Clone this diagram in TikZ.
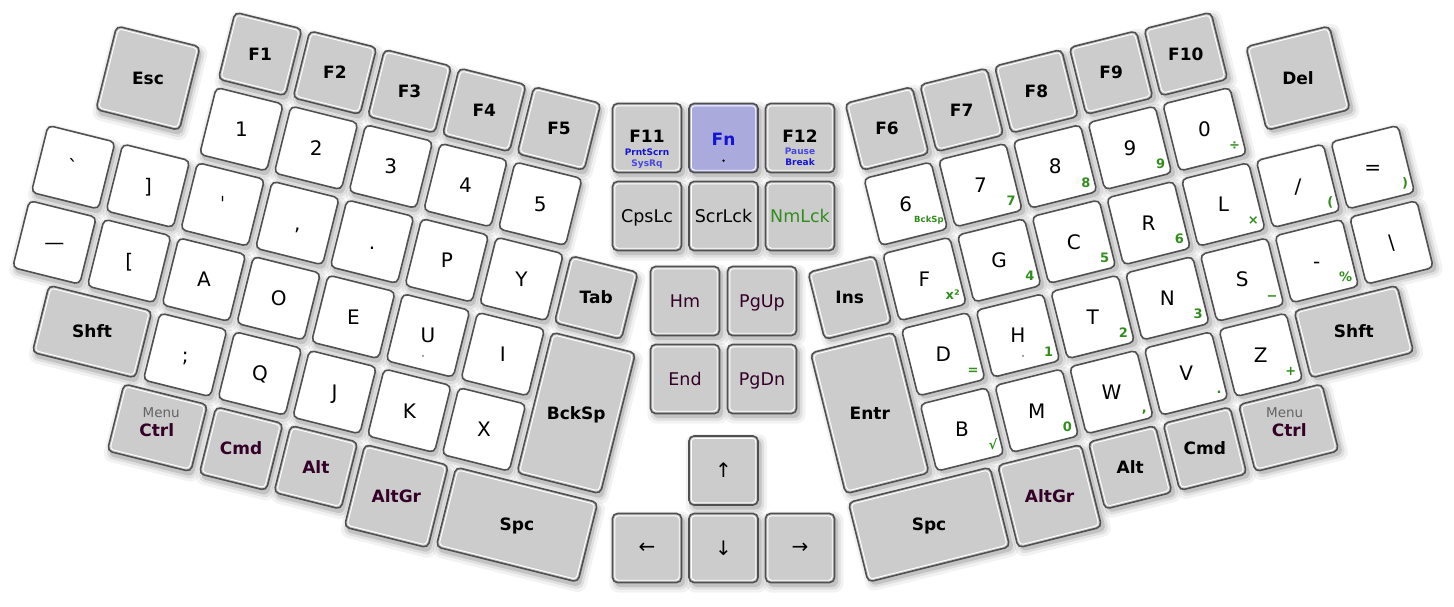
\documentclass[tikz,border=0pt]{standalone}
\usepackage{fontspec}
\newfontfamily\kf{DejaVu Sans}
\pgfdeclarelayer{background}
\pgfsetlayers{background,main}
\definecolor{keyedge}{RGB}{80,80,80}
\definecolor{keygray}{RGB}{204,204,204}
\definecolor{fnfill}{RGB}{170,170,221}
\definecolor{purp}{RGB}{51,0,40}
\definecolor{grn}{RGB}{50,140,30}
\definecolor{blu}{RGB}{20,20,210}
\definecolor{blul}{RGB}{70,70,225}
\definecolor{menug}{RGB}{100,100,100}
\tikzset{
 keybase/.style={draw=keyedge, line width=1.6pt, rounded corners=5pt, inner sep=0pt, transform shape},
 innerhl/.style={draw=white, line width=0.9pt, rounded corners=3.5pt},
 lblbase/.style={inner sep=0pt},
 ltr/.style={font=\kf\fontsize{20}{20}\selectfont, text height=14.6pt, text depth=0pt, text=black},
 mod/.style={font=\kf\bfseries\fontsize{17}{17}\selectfont, text height=12.4pt, text depth=0pt, inner sep=0pt},
 modp/.style={mod, text=purp},
 reg/.style={font=\kf\fontsize{17.5}{17.5}\selectfont, text height=12.7pt, text depth=0pt, inner sep=0pt},
 menu/.style={font=\kf\fontsize{13.5}{13.5}\selectfont, text=menug, text height=9.8pt, text depth=0pt, inner sep=0pt},
 sub/.style={font=\kf\bfseries\fontsize{13}{13}\selectfont, text=grn, anchor=base east, inner sep=0pt},
 tiny/.style={font=\kf\bfseries\fontsize{9}{9}\selectfont, inner sep=0pt},
 arr/.style={font=\kf\fontsize{20}{20}\selectfont, inner sep=0pt},
}
% name, u, v, width, height, fill, label style, label text
\newcommand\Key[8]{%
 \begin{pgfonlayer}{background}
  \fill[black,opacity=0.05,rounded corners=9pt] ({#2-#4/2-3},{-(#3)-#5/2-10}) rectangle ({#2+#4/2+9},{-(#3)+#5/2+2});
  \fill[black,opacity=0.08,rounded corners=7pt] ({#2-#4/2},{-(#3)-#5/2-7}) rectangle ({#2+#4/2+6},{-(#3)+#5/2-1});
  \fill[black,opacity=0.12,rounded corners=6pt] ({#2-#4/2+2},{-(#3)-#5/2-4.5}) rectangle ({#2+#4/2+3.5},{-(#3)+#5/2-3});
 \end{pgfonlayer}
 \node[keybase,fill=#6,minimum width=#4,minimum height=#5] (#1) at ({#2},{-(#3)}) {};
 \draw[innerhl] ({#2-#4/2+2.3},{-(#3)-#5/2+2.3}) rectangle ({#2+#4/2-2.3},{-(#3)+#5/2-2.3});
 \if\relax\detokenize{#8}\relax\else\node[lblbase,#7] (#1t) at (#1.center) {#8};\fi
}
\newcommand\Sub[4]{\node[sub] (#1) at ({#2+29.5},{-(#3)-28.5}) {#4};}
\begin{document}
\begin{tikzpicture}[x=1pt,y=1pt]
\useasboundingbox (0,0) rectangle (1454,-606);
\begin{pgfonlayer}{background}
\fill[white] (0,0) rectangle (1454,-606);
\end{pgfonlayer}
% ---------------- left half ----------------
\begin{scope}[rotate=-14]
\Key{kEsc}{162.5}{40}{86}{86}{keygray}{mod}{Esc}
\Key{kFa}{265.5}{-10.5}{69}{69}{keygray}{mod}{F1}
\Key{kFb}{342.5}{-10.5}{69}{69}{keygray}{mod}{F2}
\Key{kFc}{419.5}{-10.5}{69}{69}{keygray}{mod}{F3}
\Key{kFd}{496.5}{-10.5}{69}{69}{keygray}{mod}{F4}
\Key{kFe}{573.5}{-10.5}{69}{69}{keygray}{mod}{F5}
\Key{kNa}{265.5}{67}{69}{69}{white}{ltr}{1}
\Key{kNb}{342.5}{67}{69}{69}{white}{ltr}{2}
\Key{kNc}{419.5}{67}{69}{69}{white}{ltr}{3}
\Key{kNd}{496.5}{67}{69}{69}{white}{ltr}{4}
\Key{kNe}{573.5}{67}{69}{69}{white}{ltr}{5}
\Key{kGrave}{111.5}{144.5}{69}{69}{white}{ltr}{ˋ}
\Key{kRbr}{188.5}{144.5}{69}{69}{white}{ltr}{]}
\Key{kApos}{265.5}{144.5}{69}{69}{white}{ltr}{ˈ}
\Key{kComma}{342.5}{144.5}{69}{69}{white}{ltr}{,}
\Key{kDot}{419.5}{144.5}{69}{69}{white}{ltr}{.}
\Key{kP}{496.5}{144.5}{69}{69}{white}{ltr}{P}
\Key{kY}{573.5}{144.5}{69}{69}{white}{ltr}{Y}
\Key{kTab}{650.5}{144.5}{69}{69}{keygray}{mod}{Tab}
\Key{kDash}{111.5}{222}{69}{69}{white}{ltr}{—}
\Key{kLbr}{188.5}{222}{69}{69}{white}{ltr}{[}
\Key{kA}{265.5}{222}{69}{69}{white}{ltr}{A}
\Key{kO}{342.5}{222}{69}{69}{white}{ltr}{O}
\Key{kE}{419.5}{222}{69}{69}{white}{ltr}{E}
\Key{kU}{496.5}{222}{69}{69}{white}{ltr}{U}
\Key{kI}{573.5}{222}{69}{69}{white}{ltr}{I}
\Key{kBsp}{659}{261.3}{86}{145}{keygray}{mod}{BckSp}
\Key{kShL}{169.6}{299.5}{106}{69}{keygray}{mod}{Shft}
\Key{kSemi}{265.5}{299.5}{69}{69}{white}{ltr}{;}
\Key{kQ}{342.5}{299.5}{69}{69}{white}{ltr}{Q}
\Key{kJ}{419.5}{299.5}{69}{69}{white}{ltr}{J}
\Key{kK}{496.5}{299.5}{69}{69}{white}{ltr}{K}
\Key{kX}{573.5}{299.5}{69}{69}{white}{ltr}{X}
\Key{kCtrlL}{256.2}{377}{86}{69}{keygray}{}{}
\node[menu] (tMenuL) at (256.2,-361) {Menu};
\node[modp] (tCtrlL) at (256.2,-379.5) {Ctrl};
\Key{kCmdL}{342.5}{377}{69}{69}{keygray}{modp}{Cmd}
\Key{kAltL}{419.5}{377}{69}{69}{keygray}{modp}{Alt}
\Key{kAltGrL}{504.6}{385.5}{86}{85}{keygray}{modp}{AltGr}
\Key{kSpcL}{628.5}{384}{146}{82}{keygray}{mod}{Spc}
\fill[gray] (496.5,-243) circle (1.1);
\end{scope}
% ---------------- right half ----------------
\begin{scope}[shift={(1446,0)},rotate=14]
\Key{kDel}{-162.5}{40}{86}{86}{keygray}{mod}{Del}
\Key{kFf}{-573.5}{-10.5}{69}{69}{keygray}{mod}{F6}
\Key{kFg}{-496.5}{-10.5}{69}{69}{keygray}{mod}{F7}
\Key{kFh}{-419.5}{-10.5}{69}{69}{keygray}{mod}{F8}
\Key{kFi}{-342.5}{-10.5}{69}{69}{keygray}{mod}{F9}
\Key{kFj}{-265.5}{-10.5}{69}{69}{keygray}{mod}{F10}
\Key{kNf}{-573.5}{67}{69}{69}{white}{ltr}{6}
\Key{kNg}{-496.5}{67}{69}{69}{white}{ltr}{7}
\Key{kNh}{-419.5}{67}{69}{69}{white}{ltr}{8}
\Key{kNi}{-342.5}{67}{69}{69}{white}{ltr}{9}
\Key{kNj}{-265.5}{67}{69}{69}{white}{ltr}{0}
\node[tiny,text=grn,anchor=base east,font=\kf\bfseries\fontsize{8.5}{8.5}\selectfont] (sBck) at (-541,-94) {BckSp};
\Sub{sSeven}{-496.5}{67}{7}
\Sub{sEight}{-419.5}{67}{8}
\Sub{sNine}{-342.5}{67}{9}
\Sub{sDiv}{-265.5}{67}{÷}
\Key{kIns}{-650.5}{144.5}{69}{69}{keygray}{mod}{Ins}
\Key{kF}{-573.5}{144.5}{69}{69}{white}{ltr}{F}
\Key{kG}{-496.5}{144.5}{69}{69}{white}{ltr}{G}
\Key{kC}{-419.5}{144.5}{69}{69}{white}{ltr}{C}
\Key{kR}{-342.5}{144.5}{69}{69}{white}{ltr}{R}
\Key{kL}{-265.5}{144.5}{69}{69}{white}{ltr}{L}
\Key{kSlash}{-188.5}{144.5}{69}{69}{white}{ltr}{/}
\Key{kEq}{-111.5}{144.5}{69}{69}{white}{ltr}{=}
\Sub{sSq}{-573.5}{144.5}{x²}
\Sub{sFour}{-496.5}{144.5}{4}
\Sub{sFive}{-419.5}{144.5}{5}
\Sub{sSix}{-342.5}{144.5}{6}
\Sub{sMul}{-265.5}{144.5}{×}
\Sub{sLp}{-188.5}{144.5}{(}
\Sub{sRp}{-111.5}{144.5}{)}
\Key{kEntr}{-659}{261.3}{86}{145}{keygray}{mod}{Entr}
\Key{kD}{-573.5}{222}{69}{69}{white}{ltr}{D}
\Key{kH}{-496.5}{222}{69}{69}{white}{ltr}{H}
\Key{kT}{-419.5}{222}{69}{69}{white}{ltr}{T}
\Key{kN}{-342.5}{222}{69}{69}{white}{ltr}{N}
\Key{kS}{-265.5}{222}{69}{69}{white}{ltr}{S}
\Key{kMinus}{-188.5}{222}{69}{69}{white}{ltr}{-}
\Key{kBsl}{-111.5}{222}{69}{69}{white}{ltr}{\textbackslash}
\Sub{sEqual}{-573.5}{222}{=}
\Sub{sOne}{-496.5}{222}{1}
\Sub{sTwo}{-419.5}{222}{2}
\Sub{sThree}{-342.5}{222}{3}
\Sub{sMin}{-265.5}{222}{−}
\Sub{sPct}{-188.5}{222}{\%}
\fill[gray] (-496.5,-243) circle (1.1);
\Key{kB}{-573.5}{299.5}{69}{69}{white}{ltr}{B}
\Key{kM}{-496.5}{299.5}{69}{69}{white}{ltr}{M}
\Key{kW}{-419.5}{299.5}{69}{69}{white}{ltr}{W}
\Key{kV}{-342.5}{299.5}{69}{69}{white}{ltr}{V}
\Key{kZ}{-265.5}{299.5}{69}{69}{white}{ltr}{Z}
\Key{kShR}{-169.6}{299.5}{106}{69}{keygray}{mod}{Shft}
\Sub{sSqrt}{-573.5}{299.5}{√}
\Sub{sZero}{-496.5}{299.5}{0}
\Sub{sCom}{-419.5}{299.5}{,}
\Sub{sPer}{-342.5}{299.5}{.}
\Sub{sPlus}{-265.5}{299.5}{+}
\Key{kCtrlR}{-256.2}{377}{86}{69}{keygray}{}{}
\node[menu] (tMenuR) at (-256.2,-361) {Menu};
\node[modp] (tCtrlR) at (-256.2,-379.5) {Ctrl};
\Key{kCmdR}{-342.5}{377}{69}{69}{keygray}{mod}{Cmd}
\Key{kAltR}{-419.5}{377}{69}{69}{keygray}{mod}{Alt}
\Key{kAltGrR}{-504.6}{385.5}{86}{85}{keygray}{modp}{AltGr}
\Key{kSpcR}{-628.5}{384}{146}{82}{keygray}{mod}{Spc}
\end{scope}
% ---------------- centre cluster ----------------
\Key{kFk}{647}{138}{69}{69}{keygray}{}{}
\Key{kFn}{723.5}{138}{69}{69}{fnfill}{}{}
\Key{kFl}{800}{138}{69}{69}{keygray}{}{}
\node[mod] (tFk) at (647,-136) {F11};
\node[tiny,text=blu] (tPrnt) at (647,-152.5) {PrntScrn};
\node[tiny,text=blul] (tSys) at (647,-164.5) {SysRq};
\node[mod,text=blu] (tFn) at (723.5,-139) {Fn};
\fill[black] (723.5,-160.7) circle (1.3);
\node[mod] (tFl) at (800,-136) {F12};
\node[tiny,text=blul] (tPause) at (800,-151.7) {Pause};
\node[tiny,text=blu] (tBreak) at (800,-162) {Break};
\Key{kCaps}{647}{216}{69}{69}{keygray}{reg}{CpsLc}
\Key{kScr}{723.5}{216}{69}{69}{keygray}{reg}{ScrLck}
\Key{kNum}{800}{216}{69}{69}{keygray}{reg,text=grn}{NmLck}
\Key{kHome}{685}{301}{69}{69}{keygray}{reg,text=purp}{Hm}
\Key{kPgUp}{762}{301}{69}{69}{keygray}{reg,text=purp}{PgUp}
\Key{kEnd}{685}{379}{69}{69}{keygray}{reg,text=purp}{End}
\Key{kPgDn}{762}{379}{69}{69}{keygray}{reg,text=purp}{PgDn}
\Key{kUp}{723.5}{470.5}{69}{69}{keygray}{arr}{↑}
\Key{kLeft}{647}{548}{69}{69}{keygray}{arr}{←}
\Key{kDown}{723.5}{548}{69}{69}{keygray}{arr}{↓}
\Key{kRight}{800}{548}{69}{69}{keygray}{arr}{→}
\end{tikzpicture}
\end{document}
